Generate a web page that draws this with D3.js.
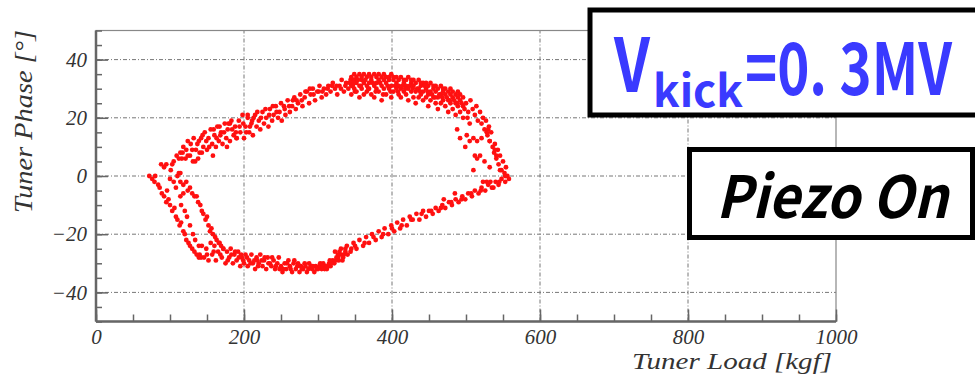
<!DOCTYPE html>
<html>
<head>
<meta charset="utf-8">
<script src="https://cdn.jsdelivr.net/npm/d3@7"></script>
<style>
  html, body { margin: 0; padding: 0; background: #fff; }
  svg { display: block; }
</style>
</head>
<body>
<div id="chart"></div>
<script>
// Tuner load vs tuner phase, piezo on, Vkick = 0.3 MV
// points, grouped by part of the loop: [load kgf, phase deg]

const upperLeft = [
  [88,4],[95,4],[101,2],[105,5],[112,6],[114,8],[118,10],[121,6],[124,12],[127,7],[130,9],[132,13],[134,5],
  [137,11],[140,8],[142,13],[145,10],[147,15],[150,9],[152,13],[155,16],[157,11],[160,14],[162,10],[164,17],
  [166,12],[169,15],[171,11],[174,18],[176,13],[178,16],[181,12],[183,19],[186,14],[188,17],[190,13],[193,19],
  [195,15],[198,21],[200,13],[202,17],[205,20],[207,15],[210,18],[212,14],[215,21],[217,17],[220,19],[222,16],
  [225,22],[227,18],[230,20],[233,17],[235,23],[238,19],[240,21],[243,24],[246,20],[248,22],[251,19],[254,24],
  [256,21],[259,26],[262,22],[265,24],[268,27],[270,23],[273,25],[276,28],[279,24],[282,27],[285,29],[288,25],
  [290,28],[293,30],[296,26],[299,29],[302,31],[305,27],[308,30],[311,28],[314,31],[317,29],[320,32],[323,30],
  [326,28],[329,31],[332,33],[335,29],[338,32],[341,30],[344,33],[347,31],[350,29],
  [112,1],[116,6],[124,7],[131,5],[138,6],[143,8],[158,7],[177,10],[190,13],[211,19],[167,17],[181,18],[205,21],
  [92,3],[103,4],[109,7],[117,8],[122,9],[128,11],[135,9],[139,12],[144,14],[149,12],[153,10],[159,16],[163,13],
  [168,14],[173,15],[179,18],[184,16],[189,15],[194,17],[199,18],[203,15],[208,17],[213,20],[218,22],[223,20],
  [229,23],[234,21],[239,24],[244,22],[250,25],[255,23],[261,24],[266,26],[271,26],[278,26],[283,29],[289,30],
  [294,28],[301,29],[306,29],[313,30],[319,31],[325,31],[331,30],[337,31],[343,32],[348,33]
];

const topArc = [
  [345,34],[345,31],[345,28],[349,33],[349,30],[349,35],[352,32],[352,29],[352,34],[356,35],[356,31],[356,27],
  [359,33],[359,30],[359,34],[362,32],[362,35],[362,28],[366,34],[366,31],[366,29],[369,35],[369,32],[369,30],
  [372,33],[372,34],[372,28],[376,35],[376,31],[376,27],[379,34],[379,32],[379,30],[382,33],[382,35],[382,29],
  [386,34],[386,31],[386,26],[389,33],[389,30],[389,35],[392,34],[392,32],[392,28],[396,33],[396,30],[396,34],
  [399,35],[399,31],[399,27],[402,33],[402,29],[402,34],[406,32],[406,34],[406,30],[409,33],[409,31],[409,28],
  [412,34],[412,30],[412,27],[416,32],[416,33],[416,29],[419,31],[419,33],[419,28],[422,34],[422,30],[422,26],
  [426,32],[426,33],[426,29],[429,31],[429,33],[429,27],[432,32],[432,29],[432,25],[436,33],[436,30],[436,27],
  [439,31],[439,32],[439,28],[442,32],[442,29],[442,26],[446,30],[446,32],[446,27],[449,31],[449,28],[449,24],
  [452,32],[452,29],[452,26],[456,30],[456,31],[456,27],[459,29],[459,31],[459,25],[462,30],[462,27],[462,23],
  [466,31],[466,28],[466,25],[469,29],[469,30],[469,26],[472,28],[472,30],[472,24],[476,29],[476,26],[476,22],
  [479,28],[479,30],[479,25],[482,27],[482,29],[482,23],[486,28],[486,25],[486,21],[489,27],[489,29],[489,24],
  [492,26],[492,28],[492,22],[496,27],[496,24],[496,20],
  [348,32],[354,33],[358,31],[364,33],[368,30],[374,32],[378,29],[384,32],[388,28],[394,31],[398,29],[404,31],
  [408,29],[414,31],[418,30],[424,31],[428,30],[434,30],[438,29],[444,31],[448,29],[454,28],[458,27],[464,28],
  [468,27],[474,27],[478,26],[484,26],[488,25],[494,25],[498,23],[502,20],[505,18]
];

const rightEdge = [
  [500,25],[503,22],[506,26],[509,23],[512,21],[514,24],[516,19],[519,22],[521,18],[523,20],[525,16],[527,19],
  [529,14],[531,17],[532,12],[534,15],[536,10],[538,8],[539,11],[541,6],[543,9],[544,4],[546,7],[548,2],[550,5],
  [552,1],[554,3],[556,0],[558,-1],
  [488,16],[492,13],[499,10],[501,14],[505,12],[510,13],[512,7],[510,2],[515,6],[519,7],[521,13],[525,5],
  [528,15],[528,-2],[532,12],[532,3],[537,-4],[539,9],[541,7],[546,2],[553,0],[523,-2],[515,12],[530,16]
];

const lowerRight = [
  [553,-2],[548,-1],[544,-3],[540,-2],[535,-4],[530,-3],[526,-5],[521,-4],[517,-6],[512,-5],[508,-7],[503,-6],
  [499,-8],[495,-7],[490,-9],[486,-8],[481,-10],[477,-9],[472,-11],[468,-10],[463,-12],[459,-11],[455,-13],
  [450,-12],[446,-14],[442,-12],[437,-15],[433,-13],[428,-15],[424,-14],[420,-17],[415,-15],[411,-18],[407,-16],
  [403,-19],[399,-17],[395,-20],[390,-18],[386,-21],[382,-19],[378,-22],[373,-20],[369,-23],[365,-21],[361,-24],
  [356,-22],[352,-25],[348,-23],[344,-26],[339,-24],[335,-27],[331,-25],[327,-28],[323,-26],[485,-6],[470,-8],
  [545,-2],[533,-2],[520,-5],[507,-6],[494,-8],[480,-9],[466,-11],[453,-12],[440,-13],[426,-15],[413,-17],
  [400,-18],[388,-20],[375,-21],[363,-23],[350,-24],[337,-25],[329,-26]
];

const bottomBand = [
  [140,-27],[143,-24],[146,-28],[149,-25],[152,-29],[155,-23],[157,-27],[160,-24],[162,-29],[165,-26],[167,-23],
  [170,-28],[172,-25],[175,-30],[177,-26],[180,-28],[182,-25],[185,-30],[187,-27],[190,-29],[192,-26],[195,-31],
  [197,-28],[200,-30],[202,-27],[205,-31],[207,-29],[210,-27],[212,-30],[215,-32],[217,-28],[220,-30],[222,-27],
  [225,-31],[227,-29],[230,-32],[232,-28],[235,-30],[237,-31],[240,-29],[242,-32],[245,-30],[247,-28],[250,-31],
  [252,-33],[255,-30],[257,-32],[260,-29],[262,-31],[265,-33],[267,-30],[270,-32],[272,-31],[275,-33],[277,-31],
  [280,-32],[282,-30],[285,-33],[287,-32],[290,-31],[292,-32],[295,-33],[297,-31],[300,-32],[302,-31],[305,-32],
  [307,-30],[310,-31],[312,-32],[315,-30],[317,-31],[320,-29],[322,-30],[325,-28],[328,-29],[331,-27],[334,-28],
  [337,-26],
  [188,-26],[196,-27],[204,-28],[214,-29],[219,-31],[228,-28],[238,-28],[248,-32],[258,-30],[268,-29],[278,-32],
  [288,-30],[298,-32],[306,-31],[314,-31],[318,-30],[324,-29],
  [150,-27],[159,-26],[168,-27],[178,-29],[183,-27],[193,-28],[199,-29],[209,-30],[218,-29],[224,-29],[233,-30],
  [243,-31],[253,-32],[263,-32],[273,-30],[283,-31],[293,-31],[303,-30],[309,-32],[316,-29],[327,-27],[333,-29],
  [340,-27],[345,-25]
];

const lowerLeft = [
  [72,0],[76,-1],[80,0],[79,-2],[84,-3],
  [86,-4],[89,-6],[92,-7],[95,-9],[98,-8],[100,-10],[103,-12],[106,-11],[108,-14],[110,-15],[113,-17],[115,-16],
  [118,-19],[120,-20],[122,-22],[125,-23],[127,-24],[130,-25],[133,-26],[136,-27],[139,-28],[142,-28],
  [100,-1],[105,-2],[110,0],[114,1],[114,-2],[118,-3],[122,-2],[124,-5],[127,-4],[130,-6],[133,-7],[136,-7],
  [138,-9],[141,-10],[143,-12],[145,-13],[148,-15],[150,-14],[152,-17],[154,-19],[156,-18],[158,-20],[161,-21],
  [163,-22],[166,-23],[169,-24],[172,-25],
  [114,-7],[115,-10],[120,-12],[123,-14],[127,-17],[131,-20],[118,-6],[108,-4],[96,-5],[134,-22],[139,-24]
];

const xMajor = [0, 200, 400, 600, 800, 1000];
const yMajor = [-40, -20, 0, 20, 40];

const W = 975, H = 382;
const svg = d3.select('#chart').append('svg').attr('width', W).attr('height', H);

const x = d3.scaleLinear().domain([0, 1000]).range([96, 836]);
const y = d3.scaleLinear().domain([-50, 50]).range([321.5, 30.5]);

const axisColor = '#666';
const gridDash  = '4,2,1,2';

// grid
const grid = svg.append('g');
grid.selectAll('.gx').data(xMajor.slice(1, -1)).join('line')
  .attr('x1', d => x(d)).attr('x2', d => x(d))
  .attr('y1', y(-50)).attr('y2', y(50))
  .attr('stroke', '#777').attr('stroke-width', 1).attr('stroke-dasharray', gridDash);
grid.selectAll('.gy').data(yMajor).join('line')
  .attr('x1', x(0)).attr('x2', x(1000))
  .attr('y1', d => y(d)).attr('y2', d => y(d))
  .attr('stroke', '#777').attr('stroke-width', 1).attr('stroke-dasharray', gridDash);

// frame
svg.append('rect')
  .attr('x', x(0)).attr('y', y(50))
  .attr('width', x(1000) - x(0)).attr('height', y(-50) - y(50))
  .attr('fill', 'none').attr('stroke', '#888').attr('stroke-width', 1.2);

// axes with inside ticks
const styleAxis = g => {
  g.select('.domain').remove();
  g.selectAll('.tick line').attr('stroke', axisColor).attr('stroke-width', 1.5);
};

svg.append('g').attr('transform', `translate(0,${y(-50)})`)
  .call(d3.axisBottom(x).tickValues(d3.range(0, 1001, 50)).tickSize(-7).tickFormat(''))
  .call(styleAxis);
svg.append('g').attr('transform', `translate(0,${y(-50)})`)
  .call(d3.axisBottom(x).tickValues(xMajor).tickSize(-12).tickPadding(8).tickFormat(d3.format('d')))
  .call(styleAxis)
  .call(g => g.selectAll('text')
    .attr('font-family', '"Liberation Serif", serif').attr('font-style', 'italic')
    .attr('font-size', 21).attr('fill', '#333').attr('dy', '0.71em'));

svg.append('g').attr('transform', `translate(${x(0)},0)`)
  .call(d3.axisLeft(y).tickValues(d3.range(-50, 51, 5)).tickSize(-6).tickFormat(''))
  .call(styleAxis);
svg.append('g').attr('transform', `translate(${x(0)},0)`)
  .call(d3.axisLeft(y).tickValues(yMajor).tickSize(-12).tickPadding(9).tickFormat(d3.format('d')))
  .call(styleAxis)
  .call(g => g.selectAll('text')
    .attr('font-family', '"Liberation Serif", serif').attr('font-style', 'italic')
    .attr('font-size', 21).attr('fill', '#333'));

svg.append('line')
  .attr('x1', x(0)).attr('x2', x(1000)).attr('y1', y(-50)).attr('y2', y(-50))
  .attr('stroke', axisColor).attr('stroke-width', 2.5);
svg.append('line')
  .attr('x1', x(0)).attr('x2', x(0)).attr('y1', y(-50)).attr('y2', y(50))
  .attr('stroke', axisColor).attr('stroke-width', 2.5);

// axis titles
svg.append('text')
  .attr('x', 832).attr('y', 369)
  .attr('text-anchor', 'end')
  .attr('font-family', '"Liberation Serif", serif').attr('font-style', 'italic')
  .attr('font-size', 24).attr('fill', '#333')
  .attr('textLength', 200).attr('lengthAdjust', 'spacingAndGlyphs')
  .text('Tuner Load [kgf]');
svg.append('text')
  .attr('transform', 'translate(32,30) rotate(-90)')
  .attr('text-anchor', 'end')
  .attr('font-family', '"Liberation Serif", serif').attr('font-style', 'italic')
  .attr('font-size', 26).attr('fill', '#333')
  .attr('textLength', 183).attr('lengthAdjust', 'spacingAndGlyphs')
  .text('Tuner Phase [°]');

// points
const allPoints = [...upperLeft, ...topArc, ...rightEdge, ...lowerRight, ...bottomBand, ...lowerLeft];
svg.append('g').selectAll('circle')
  .data(allPoints)
  .join('circle')
  .attr('cx', d => x(d[0]))
  .attr('cy', d => y(d[1]))
  .attr('r', 2.4)
  .attr('fill', '#ff1010');

// annotation boxes
const gothic = '"Noto Sans CJK JP", "DejaVu Sans", sans-serif';

// text squeezed horizontally to a target width
function fitText(parent, str, x0, y0, width, size, opts = {}) {
  const t = parent.append('text')
    .attr('font-family', gothic).attr('font-weight', 700)
    .attr('font-style', opts.italic ? 'italic' : 'normal')
    .attr('font-size', size).attr('fill', opts.fill || '#000')
    .text(str);
  const len = t.node().getComputedTextLength() || width;
  t.attr('transform', `translate(${x0},${y0}) scale(${width / len},1)`);
  return t;
}

// box runs off the right edge, as in the original
svg.append('rect')
  .attr('x', 590).attr('y', 10).attr('width', 400).attr('height', 105)
  .attr('fill', '#fff').attr('stroke', '#000').attr('stroke-width', 5);
fitText(svg, 'V', 614, 92, 36, 74, { fill: '#3a3aff' });
fitText(svg, 'kick', 653, 107, 90, 44, { fill: '#3a3aff' });
fitText(svg, '=0. 3MV', 745, 95, 207, 72, { fill: '#3a3aff' });

svg.append('rect')
  .attr('x', 689.5).attr('y', 149.5).attr('width', 283).attr('height', 88)
  .attr('fill', '#fff').attr('stroke', '#000').attr('stroke-width', 5);
fitText(svg, 'Piezo On', 716, 218, 232, 58, { italic: true });
</script>
</body>
</html>
